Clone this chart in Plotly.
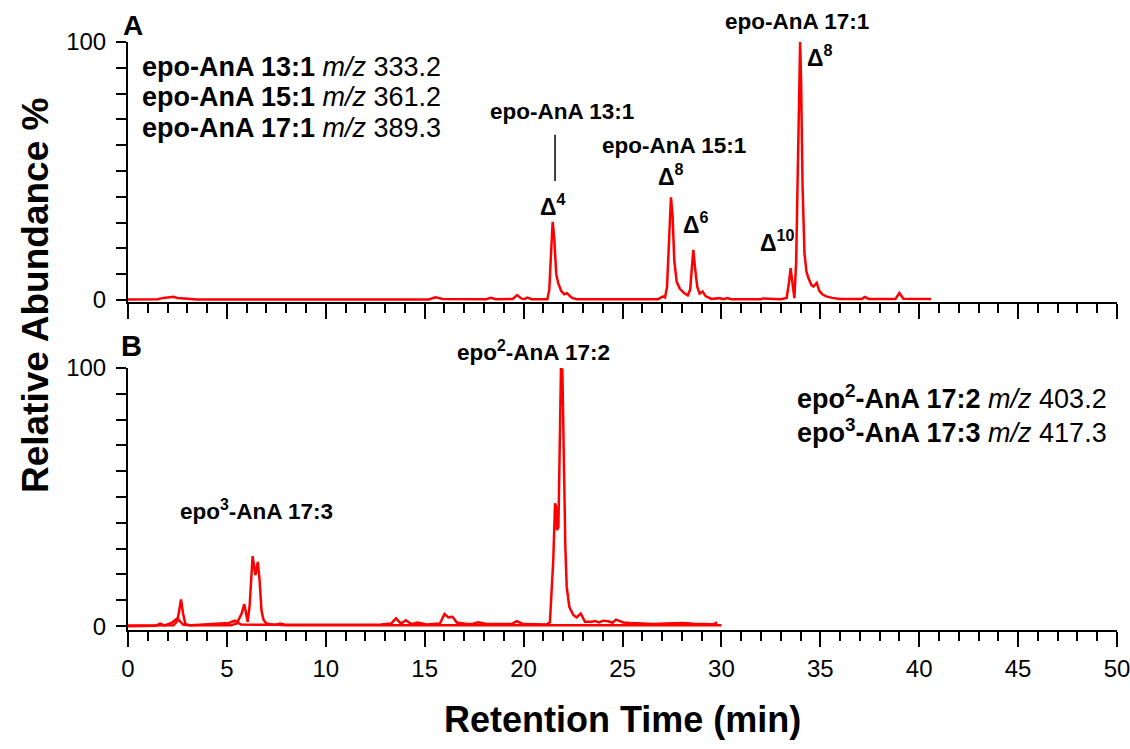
import plotly.graph_objects as go

# ---------------- data ----------------
# Panel A: epo-AnA 13:1 / 15:1 / 17:1 (combined EIC)
a_time = [0, 1.5, 1.8, 2.1, 2.3, 2.5, 2.8, 3.5, 15.2, 15.55, 15.9, 18.1, 18.35, 18.6,
          19.45, 19.67, 19.9, 20.05, 20.2, 20.4, 21.2, 21.3, 21.38, 21.47, 21.55, 21.65,
          21.75, 21.9, 22.05, 22.2, 22.3, 22.45, 22.7, 26.8, 27.05, 27.15, 27.25, 27.35,
          27.45, 27.53, 27.62, 27.74, 27.9, 28.1, 28.3, 28.42, 28.52, 28.58, 28.66, 28.78,
          28.9, 29.05, 29.2, 29.5, 29.9, 30.1, 30.3, 30.5, 32.0, 32.1, 33.0, 33.3, 33.42,
          33.5, 33.6, 33.69, 33.78, 33.87, 33.94, 33.98, 34.03, 34.1, 34.2, 34.3, 34.4,
          34.55, 34.65, 34.82, 34.95, 35.1, 35.3, 35.6, 36.0, 37.1, 37.26, 37.45, 38.8,
          39.0, 39.2, 40.6]
a_abund = [0.2, 0.3, 0.8, 0.9, 1.2, 0.8, 0.6, 0.2, 0.2, 1.0, 0.4, 0.3, 0.8, 0.3,
           0.4, 1.9, 0.5, 0.4, 0.9, 0.3, 0.3, 4.0, 17.0, 30.3, 24.0, 10.0,
           6.5, 3.5, 2.2, 2.6, 1.8, 0.8, 0.3, 0.3, 1.4, 1.0, 5.0, 22.0,
           39.8, 33.0, 15.0, 7.0, 4.3, 2.8, 1.8, 4.0, 14.0, 19.4, 13.0, 5.0,
           2.5, 3.3, 1.5, 0.4, 0.7, 0.3, 0.7, 0.3, 0.3, 0.6, 0.3, 0.8, 7.0,
           12.3, 6.0, 0.7, 15.0, 60.0, 96.0, 100.0, 85.0, 45.0, 18.0, 11.0, 8.5,
           5.8, 5.2, 6.6, 3.5, 2.2, 1.4, 0.8, 0.4, 0.4, 1.2, 0.4, 0.4,
           2.7, 0.5, 0.4]

# Panel B: epo2-AnA 17:2 (m/z 403.2)
b2_time = [0, 1.4, 1.62, 1.85, 2.2, 2.49, 2.8, 3.2, 5.1, 5.41, 5.7, 7.5, 7.68, 7.9, 9, 10,
           11, 12, 12.8, 13.3, 13.55, 13.8, 14.05, 14.34, 14.63, 15.1, 15.77, 16.0, 16.2,
           16.41, 16.62, 17.12, 17.45, 17.71, 18.13, 19.4, 19.65, 19.99, 21.17, 21.33,
           21.42, 21.5, 21.59, 21.64, 21.69, 21.76, 21.81, 21.89, 21.96, 22.03, 22.11,
           22.18, 22.31, 22.51, 22.68, 22.89, 23.1, 23.44, 23.61, 23.8, 24.03, 24.28,
           24.5, 24.67, 25.04, 25.4, 25.88, 26.56, 27.2, 28.07, 28.6, 29.2, 29.59, 29.79]
b2_abund = [0, 0.1, 1.0, 0.3, 1.2, 3.0, 0.5, 0.3, 1.2, 2.1, 0.6, 0.5, 1.0, 0.6, 0.5, 0.5,
            0.4, 0.4, 0.6, 1.0, 3.0, 1.0, 2.3, 0.7, 1.4, 0.6, 1.0, 4.7, 3.4,
            3.6, 1.4, 0.8, 0.9, 1.5, 0.8, 0.8, 1.9, 0.8, 0.6, 1.5,
            12.7, 25.6, 47.6, 46.2, 37.2, 38.5, 61.7, 100.0, 99.2, 64.3, 30.7,
            15.2, 7.5, 4.3, 3.4, 4.9, 1.7, 1.7, 2.0, 1.4, 2.1, 1.9,
            1.3, 2.5, 1.4, 1.2, 1.0, 0.8, 1.0, 1.2, 0.9, 0.8, 0.7, 1.5]

# Panel B: epo3-AnA 17:3 (m/z 417.3)
b3_time = [0, 2.3, 2.5, 2.6, 2.68, 2.78, 2.9, 3.1, 5.2, 5.5, 5.75, 5.88, 5.97, 6.05, 6.15,
           6.3, 6.38, 6.44, 6.5, 6.56, 6.65, 6.75, 6.85, 7.0, 7.3, 8.0, 30.0]
b3_abund = [0.2, 0.3, 2.0, 6.5, 10.3, 5.0, 0.8, 0.3, 0.3, 1.0, 5.0, 8.5, 5.0, 1.7, 8.0,
            27.1, 23.0, 19.8, 22.0, 24.9, 18.0, 6.0, 2.5, 1.0, 0.6, 0.3, 0.3]

x_ticks = list(range(0, 51, 5))
x_tick_labels = [str(v) for v in x_ticks]
y_ticks = list(range(0, 101, 10))
y_tick_labels = ['0'] + [''] * 9 + ['100']

# ---------------- figure ----------------
FONT = 'Liberation Sans, Arial, sans-serif'
RED = '#FF0000'
LW = 2.5

fig = go.Figure()
fig.add_trace(go.Scatter(x=a_time, y=a_abund, mode='lines', line=dict(color=RED, width=LW),
                         xaxis='x', yaxis='y', showlegend=False, hoverinfo='skip'))
fig.add_trace(go.Scatter(x=b3_time, y=b3_abund, mode='lines', line=dict(color=RED, width=LW),
                         xaxis='x2', yaxis='y2', showlegend=False, hoverinfo='skip'))
fig.add_trace(go.Scatter(x=b2_time, y=b2_abund, mode='lines', line=dict(color=RED, width=LW),
                         xaxis='x2', yaxis='y2', showlegend=False, hoverinfo='skip'))

axis_common = dict(showline=True, linecolor='black', linewidth=2, ticks='outside',
                   tickcolor='black', tickwidth=2, showgrid=False, zeroline=False,
                   mirror=False, automargin=False, ticklabeloverflow='allow')
minor_x = dict(tick0=0, dtick=1, ticklen=9, tickwidth=2, tickcolor='black', ticks='outside')

xa = dict(range=[0, 50], tickvals=x_ticks, ticklen=15, minor=minor_x, domain=[0, 1], **axis_common)
ya = dict(tickvals=y_ticks, ticktext=y_tick_labels, ticklen=10,
          tickfont=dict(family=FONT, size=24, color='black'), ticklabelstandoff=5, **axis_common)

fig.update_layout(
    width=1130, height=749,
    margin=dict(l=128, r=13, t=42, b=119, autoexpand=False),
    paper_bgcolor='white', plot_bgcolor='white',
    font=dict(family=FONT, color='black'),
    xaxis=dict(anchor='y', showticklabels=False, **xa),
    yaxis=dict(anchor='x', domain=[0.5578, 1.0], range=[-0.8, 100], **ya),
    xaxis2=dict(anchor='y2', ticktext=x_tick_labels,
                tickfont=dict(family=FONT, size=24, color='black'), ticklabelstandoff=1, **xa),
    yaxis2=dict(anchor='x2', domain=[0.0, 0.4456], range=[-1.5, 100], **ya),
)

ann = []
def add(text, x, y, xref='x', yref='y', size=20, xanchor='center', yanchor='middle', **kw):
    ann.append(dict(text=text, x=x, y=y, xref=xref, yref=yref, showarrow=False,
                    xanchor=xanchor, yanchor=yanchor,
                    font=dict(family=FONT, size=size, color='black'), **kw))

# Panel A
add('<b>A</b>', 0.25, 1.063, yref='y domain', size=28)
add('<b>epo-AnA 13:1</b> <i>m/z</i> 333.2', 0.6, 90.3, size=27, xanchor='left')
add('<b>epo-AnA 15:1</b> <i>m/z</i> 361.2', 0.6, 78.7, size=27, xanchor='left')
add('<b>epo-AnA 17:1</b> <i>m/z</i> 389.3', 0.6, 66.7, size=27, xanchor='left')
add('<b>epo-AnA 13:1</b>', 21.94, 72.9, size=22.5)
add('<b>Δ<sup>4</sup></b>', 21.5, 36.8, size=23)
add('<b>epo-AnA 15:1</b>', 27.6, 59.7, size=22.5)
add('<b>Δ<sup>8</sup></b>', 27.45, 48.4, size=23)
add('<b>Δ<sup>6</sup></b>', 28.7, 29.8, size=23)
add('<b>Δ<sup>10</sup></b>', 32.8, 22.9, size=23)
add('<b>epo-AnA 17:1</b>', 33.8, 1.079, yref='y domain', size=22.5)
add('<b>Δ<sup>8</sup></b>', 35.0, 94.6, size=23)

# Panel B
add('<b>B</b>', 0.2, 1.084, xref='x2', yref='y2 domain', size=29)
add('<b>epo<sup>2</sup>-AnA 17:2</b>', 20.48, 1.065, xref='x2', yref='y2 domain', size=22.5)
add('<b>epo<sup>3</sup>-AnA 17:3</b>', 6.5, 45.0, xref='x2', yref='y2', size=22.5)
add('<b>epo<sup>2</sup>-AnA 17:2</b> <i>m/z</i> 403.2', 49.6, 88.8, xref='x2', yref='y2',
    size=27, xanchor='right')
add('<b>epo<sup>3</sup>-AnA 17:3</b> <i>m/z</i> 417.3', 49.6, 75.6, xref='x2', yref='y2',
    size=27, xanchor='right')

# Axis titles
add('<b>Relative Abundance %</b>', -0.094, 0.568, xref='paper', yref='paper', size=37,
    textangle=-90)
add('<b>Retention Time (min)</b>', 0.5, -0.153, xref='paper', yref='paper', size=36)

fig.update_layout(annotations=ann)

fig.add_shape(type='line', xref='x', yref='y', x0=21.59, x1=21.59, y0=46.1, y1=64.0,
              line=dict(color='black', width=1.5))

fig.write_html('out.html')
